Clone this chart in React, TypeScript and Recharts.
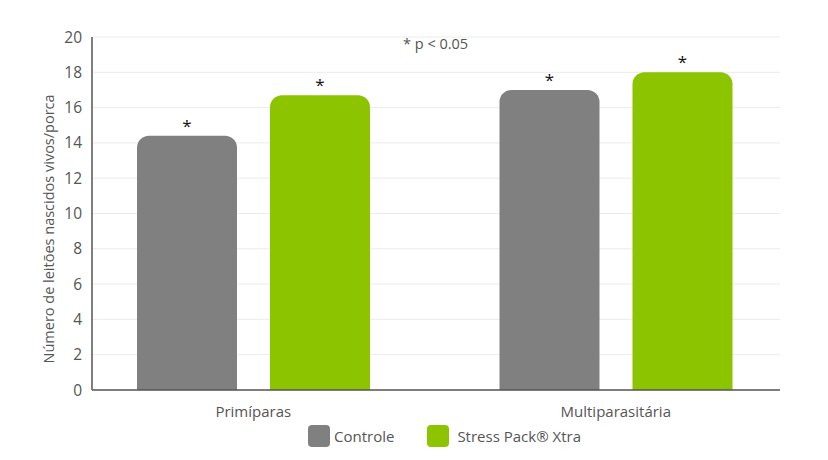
import React from "react";
import { BarChart, Bar, XAxis, YAxis, CartesianGrid, Legend } from "recharts";

const categories = ["Primíparas", "Multiparasitária"];
const controle = [14.4, 17.0];
const stressPack = [16.7, 18.0];
const yTicks = [0, 2, 4, 6, 8, 10, 12, 14, 16, 18, 20];

const data = categories.map((name, i) => ({
    name,
    controle: controle[i],
    stressPack: stressPack[i],
}));

const GRAY = "#808080";
const GREEN = "#8cc400";
const FONT = "'Open Sans', sans-serif";

const renderStar = (props: any) => {
    const { x, y, width } = props;
    return (
        <text x={x + width / 2} y={y - 4} textAnchor="middle" fontSize={17} fill="#111" fontFamily={FONT}>
            *
        </text>
    );
};

const legendItems = [
    { label: "Controle", color: GRAY },
    { label: "Stress Pack® Xtra", color: GREEN },
];

function LegendContent() {
    return (
        <div style={{ display: "flex", alignItems: "center", fontFamily: FONT, fontSize: 15, color: "#555" }}>
            {legendItems.map((item, i) => (
                <div key={item.label} style={{ display: "flex", alignItems: "center", marginRight: i === 0 ? 33 : 0 }}>
                    <span
                        style={{
                            display: "inline-block",
                            width: 22,
                            height: 22,
                            borderRadius: 4,
                            background: item.color,
                            marginRight: item.label === "Controle" ? 4 : 8,
                        }}
                    />
                    <span>{item.label}</span>
                </div>
            ))}
        </div>
    );
}

export default function App() {
    return (
        <div style={{ position: "absolute", left: 0, top: 0, width: 828, height: 460, background: "#fff", fontFamily: FONT }}>
            <BarChart
                width={828}
                height={460}
                data={data}
                margin={{ top: 37, right: 48, bottom: 0, left: 28 }}
                barSize={100}
                barGap={33}
            >
                <CartesianGrid horizontal vertical={false} stroke="#ececec" />
                <XAxis
                    dataKey="name"
                    height={48}
                    padding={{ left: -20, right: -17 }}
                    axisLine={{ stroke: "#555", strokeWidth: 1.5 }}
                    tickLine={false}
                    tick={{ fill: "#555", fontSize: 15, fontFamily: FONT }}
                    tickMargin={10}
                />
                <YAxis
                    domain={[0, 20]}
                    ticks={yTicks}
                    width={64}
                    axisLine={{ stroke: "#555", strokeWidth: 1.5 }}
                    tickLine={false}
                    tick={{ fill: "#555", fontSize: 15.5, fontFamily: FONT }}
                    tickMargin={4}
                    label={{
                        value: "Número de leitões nascidos vivos/porca",
                        angle: -90,
                        position: "insideLeft",
                        dx: 16,
                        dy: 150,
                        style: { fill: "#555", fontSize: 14.5, fontFamily: FONT },
                    }}
                />
                <Legend
                    content={<LegendContent />}
                    wrapperStyle={{ left: 308, top: 425, width: "auto" }}
                />
                <Bar dataKey="controle" name="Controle" fill={GRAY} radius={[12, 12, 0, 0]} isAnimationActive={false} label={renderStar} />
                <Bar dataKey="stressPack" name="Stress Pack® Xtra" fill={GREEN} radius={[12, 12, 0, 0]} isAnimationActive={false} label={renderStar} />
            </BarChart>
            <div style={{ position: "absolute", left: 403, top: 34, fontSize: 14.5, color: "#555", fontFamily: FONT }}>
                * p &lt; 0.05
            </div>
        </div>
    );
}
